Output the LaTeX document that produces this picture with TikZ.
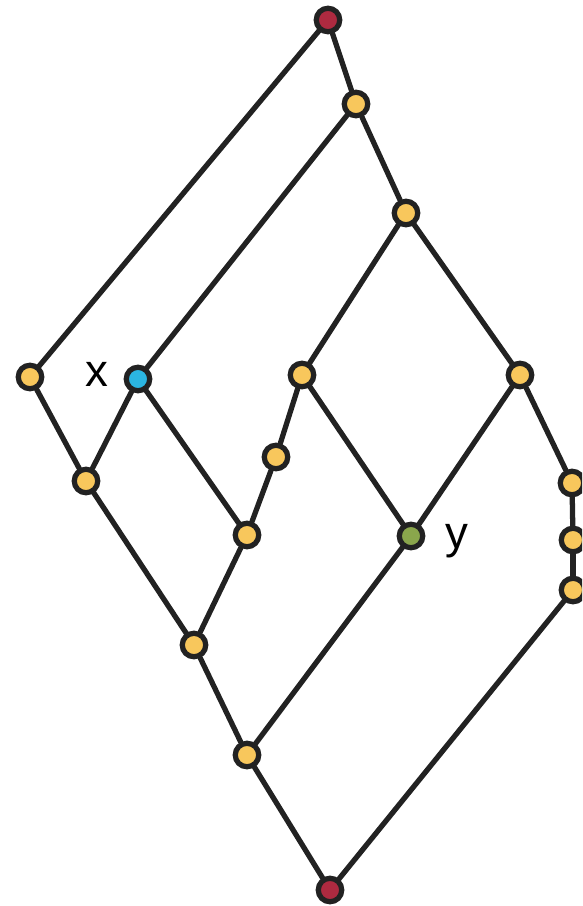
\documentclass[tikz,border=0pt]{standalone}
\usepackage{fontspec}
\setmainfont{Liberation Sans}
\definecolor{ptyellow}{HTML}{F8C75C}
\definecolor{ptblue}{HTML}{2BB6E2}
\definecolor{ptgreen}{HTML}{8AA64C}
\definecolor{ptred}{HTML}{AE2A40}
\definecolor{ptline}{HTML}{222222}
\begin{document}
\begin{tikzpicture}[x=0.02cm, y=-0.02cm, line width=3pt,
  pt/.style={circle, draw=ptline, fill=ptyellow, line width=3pt, inner sep=0pt, minimum size=0.47cm}]
  \useasboundingbox (0,0) rectangle (582,906);
  \clip (0,0) rectangle (582,906);
  \node[pt, fill=ptred] (top) at (328,20) {};
  \node[pt] (a) at (356,104) {}; \node[pt] (b) at (406,213) {};
  \node[pt] (l) at (30,377) {}; \node[pt, fill=ptblue] (x) at (138,379) {};
  \node[pt] (c) at (302,375) {}; \node[pt] (d) at (520,375) {};
  \node[pt] (e) at (86,481) {}; \node[pt] (f) at (276,457) {};
  \node[pt] (g) at (247,535) {}; \node[pt, fill=ptgreen] (y) at (411,536) {};
  \node[pt] (r1) at (572,483) {}; \node[pt] (r2) at (573,540) {}; \node[pt] (r3) at (573,590) {};
  \node[pt] (h) at (194,645) {}; \node[pt] (i) at (247,755) {};
  \node[pt, fill=ptred] (bot) at (330,890) {};
  \begin{scope}[ptline, line cap=round]
  \draw (top) -- (l); \draw (top) -- (a);
  \draw (a) -- (x); \draw (a) -- (b);
  \draw (b) -- (c); \draw (b) -- (d);
  \draw (l) -- (e); \draw (x) -- (e); \draw (x) -- (g);
  \draw (c) -- (f); \draw (f) -- (g); \draw (c) -- (y); \draw (d) -- (y);
  \draw (d) -- (r1); \draw (r1) -- (r2); \draw (r2) -- (r3);
  \draw (e) -- (h); \draw (g) -- (h); \draw (h) -- (i);
  \draw (i) -- (y); \draw (i) -- (bot); \draw (r3) -- (bot);
  \end{scope}
  \node[font=\fontsize{26}{26}\selectfont] (xl) at (97,374) {x};
  \node[font=\fontsize{26}{26}\selectfont] (yl) at (457,541) {y};
\end{tikzpicture}
\end{document}
